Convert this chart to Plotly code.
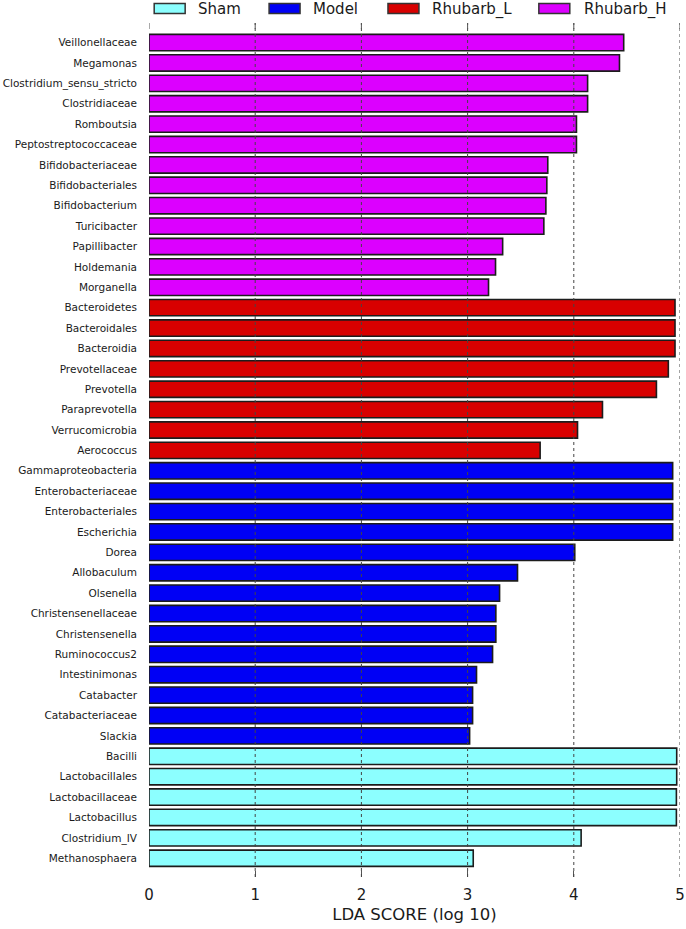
import plotly.graph_objects as go

# ---- data (top to bottom as shown) ----
taxa = [
    "Veillonellaceae", "Megamonas", "Clostridium_sensu_stricto", "Clostridiaceae",
    "Romboutsia", "Peptostreptococcaceae", "Bifidobacteriaceae", "Bifidobacteriales",
    "Bifidobacterium", "Turicibacter", "Papillibacter", "Holdemania", "Morganella",
    "Bacteroidetes", "Bacteroidales", "Bacteroidia", "Prevotellaceae", "Prevotella",
    "Paraprevotella", "Verrucomicrobia", "Aerococcus",
    "Gammaproteobacteria", "Enterobacteriaceae", "Enterobacteriales", "Escherichia",
    "Dorea", "Allobaculum", "Olsenella", "Christensenellaceae", "Christensenella",
    "Ruminococcus2", "Intestinimonas", "Catabacter", "Catabacteriaceae", "Slackia",
    "Bacilli", "Lactobacillales", "Lactobacillaceae", "Lactobacillus",
    "Clostridium_IV", "Methanosphaera",
]
lda = [
    4.47, 4.43, 4.13, 4.13, 4.025, 4.025, 3.755, 3.746, 3.737, 3.718, 3.33, 3.263, 3.197,
    4.953, 4.953, 4.953, 4.89, 4.778, 4.27, 4.035, 3.683,
    4.931, 4.931, 4.931, 4.931, 4.009, 3.47, 3.301, 3.266, 3.266, 3.235, 3.084,
    3.047, 3.047, 3.019,
    4.969, 4.969, 4.966, 4.966, 4.069, 3.053,
]
group = (["Rhubarb_H"] * 13 + ["Rhubarb_L"] * 8 + ["Model"] * 14 + ["Sham"] * 6)

classes = ["Sham", "Model", "Rhubarb_L", "Rhubarb_H"]
colors = {"Sham": "#8CFFFF", "Model": "#0000F5", "Rhubarb_L": "#D80000", "Rhubarb_H": "#DC00FF"}
x_ticks = [0, 1, 2, 3, 4, 5]

n = len(taxa)
ypos = [n - 1 - i for i in range(n)]

FONT = "DejaVu Sans"
W, H = 686, 929
L, R, T, B = 148.8, 5.7, 22.5, 51.5
pw, ph = W - L - R, H - T - B

fig = go.Figure()
for c in classes:
    xs = [lda[i] for i in range(n) if group[i] == c]
    ys = [ypos[i] for i in range(n) if group[i] == c]
    fig.add_trace(go.Bar(
        x=xs, y=ys, orientation="h", name=c, width=0.8,
        marker=dict(color=colors[c], line=dict(color="#1c1c1c", width=1.6)),
        showlegend=False,
    ))

# dotted grid lines above bars
for v in x_ticks[1:]:
    fig.add_shape(type="line", xref="x", yref="paper", x0=v, x1=v, y0=0, y1=1,
                  line=dict(color="#444444", width=1, dash="dot"), layer="above")
# top tick marks (inward)
for v in x_ticks:
    fig.add_shape(type="line", xref="x", yref="paper", x0=v, x1=v, y0=1, y1=1 - 6 / ph,
                  line=dict(color="#555555", width=1), layer="above")

# custom legend (wide rectangles); positions given in page pixels
def px(xp):
    return (xp - L) / pw
def py(yp):
    return (H - B - yp) / ph
leg_box_x = [154, 269, 388, 539]
leg_text_x = [196, 311, 430, 582]
for c, bx, tx in zip(classes, leg_box_x, leg_text_x):
    fig.add_shape(type="rect", xref="paper", yref="paper",
                  x0=px(bx), x1=px(bx + 31), y0=py(13), y1=py(3),
                  fillcolor=colors[c], line=dict(color="#333333", width=1.5))
    fig.add_annotation(xref="paper", yref="paper", x=px(tx), y=py(8.5), text=c,
                       showarrow=False, xanchor="left", yanchor="middle",
                       font=dict(family=FONT, size=15, color="#1a1a1a"))

fig.update_layout(
    width=W, height=H,
    margin=dict(l=L, r=R, t=T, b=B, pad=0, autoexpand=False),
    plot_bgcolor="white", paper_bgcolor="white",
    barmode="overlay",
    font=dict(family=FONT, color="#1a1a1a"),
    xaxis=dict(
        range=[0, 5], tickvals=x_ticks, ticktext=[str(v) for v in x_ticks],
        showgrid=False, zeroline=False, showline=False, automargin=False,
        ticks="inside", ticklen=6, tickwidth=1, tickcolor="#555555",
        ticklabelstandoff=7,
        tickfont=dict(size=15, family=FONT, color="#1a1a1a"),
        title=dict(text="LDA SCORE (log 10)", standoff=5,
                   font=dict(size=16.5, family=FONT, color="#1a1a1a")),
    ),
    yaxis=dict(
        range=[-0.92, n - 1 + 0.96],
        tickvals=ypos, ticktext=taxa, automargin=False,
        showgrid=False, zeroline=False, showline=False, ticks="",
        ticklabelstandoff=11,
        tickfont=dict(size=10.5, family=FONT, color="#1a1a1a"),
    ),
)

# remove the browser's default 8px body margin so the figure fills the window
fig.write_html("out.html",
               config={"displayModeBar": False},
               post_script="document.body.style.margin='0';document.body.style.overflow='hidden';")
